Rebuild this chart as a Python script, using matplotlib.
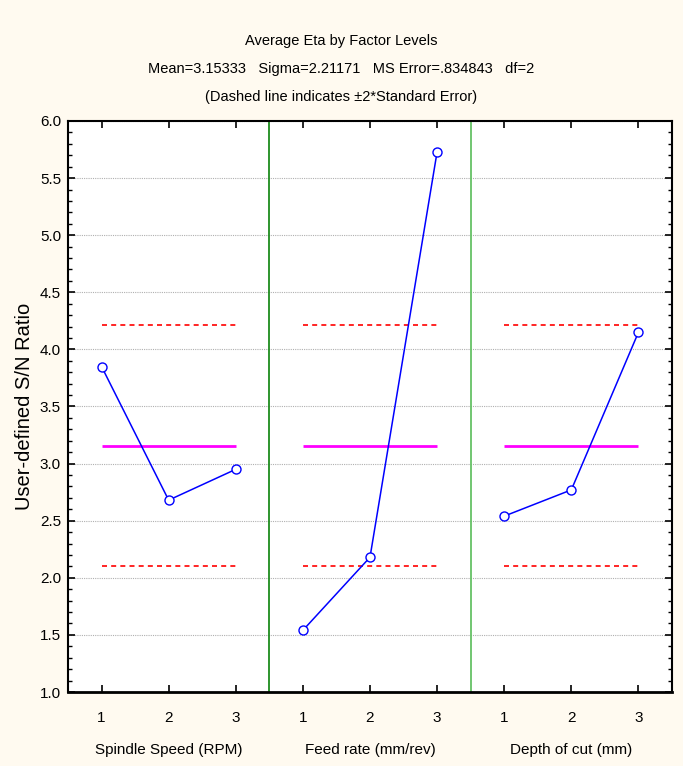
import matplotlib
matplotlib.use('Agg')
import matplotlib.pyplot as plt
from matplotlib.ticker import MultipleLocator

# --- data ---
factors = ['Spindle Speed (RPM)', 'Feed rate (mm/rev)', 'Depth of cut (mm)']
levels = ['1', '2', '3']
eta_spindle = [3.85, 2.68, 2.95]
eta_feed = [1.54, 2.18, 5.73]
eta_depth = [2.54, 2.77, 4.15]
grand_mean = 3.15333
upper_limit = 4.21
lower_limit = 2.10

series = [eta_spindle, eta_feed, eta_depth]
sep_colors = ['#1e8c1e', '#66c266']

BG = '#fffaf0'
FONT = ['Liberation Sans', 'DejaVu Sans']

fig = plt.figure(figsize=(6.83, 7.66), dpi=100)
fig.patch.set_facecolor(BG)
ax = fig.add_axes([68 / 683, 1 - 692 / 766, 604 / 683, 571 / 766])
ax.set_facecolor('white')

n = len(levels)
for i, vals in enumerate(series):
    xs = [i * n + k + 1 for k in range(n)]
    x0, x1 = xs[0], xs[-1]
    ax.hlines([upper_limit, lower_limit], x0, x1, colors='#ff0000',
              linestyles=(0, (3, 2.5)), linewidth=1.2, zorder=3)
    ax.hlines(grand_mean, x0, x1, colors='#ff00ff', linewidth=2, zorder=3)
    ax.plot(xs, vals, color='#0000ff', linewidth=1.1, marker='o',
            markersize=6.5, markerfacecolor='white', markeredgecolor='#0000ff',
            markeredgewidth=1.0, zorder=4)

for j, c in enumerate(sep_colors):
    ax.axvline((j + 1) * n + 0.5, color=c, linewidth=1.3, zorder=2)

ax.set_xlim(0.5, len(series) * n + 0.5)
ax.set_ylim(1.0, 6.0)
ax.yaxis.set_major_locator(MultipleLocator(0.5))
ax.yaxis.set_minor_locator(MultipleLocator(0.1))
ax.set_yticklabels([f'{v:.1f}' for v in ax.get_yticks()], family=FONT,
                   fontsize=11)
ax.set_xticks(range(1, len(series) * n + 1))
ax.set_xticklabels(levels * len(series), family=FONT, fontsize=11)
ax.grid(axis='y', which='major', color='#b0b0b0', linestyle=(0, (1, 1)),
        linewidth=0.8, zorder=1)

ax.tick_params(axis='both', which='both', direction='in', top=True,
               right=True, color='black')
ax.tick_params(axis='y', which='major', length=5, width=1.2, pad=5)
ax.tick_params(axis='y', which='minor', length=3, width=1.0)
ax.tick_params(axis='x', which='major', length=5, width=1.2, pad=14)

for side, sp in ax.spines.items():
    sp.set_color('black')
    sp.set_linewidth(1.5)
ax.spines['bottom'].set_linewidth(2)

ax.set_ylabel('User-defined S/N Ratio', fontsize=14.5, labelpad=4,
              family=FONT)

for i, name in enumerate(factors):
    ax.text((i * n + 2), -0.102, name, transform=ax.get_xaxis_transform(),
            ha='center', va='center', fontsize=11, family=FONT)

fig.text(0.5, 1 - 41 / 766, 'Average Eta by Factor Levels', ha='center',
         va='center', fontsize=10.5, family=FONT)
fig.text(0.5, 1 - 69 / 766,
         'Mean=3.15333   Sigma=2.21171   MS Error=.834843   df=2',
         ha='center', va='center', fontsize=10.5, family=FONT)
fig.text(0.5, 1 - 97 / 766, '(Dashed line indicates \u00b12*Standard Error)',
         ha='center', va='center', fontsize=10.5, family=FONT)

fig.savefig('out.png', dpi=100, facecolor=BG)
